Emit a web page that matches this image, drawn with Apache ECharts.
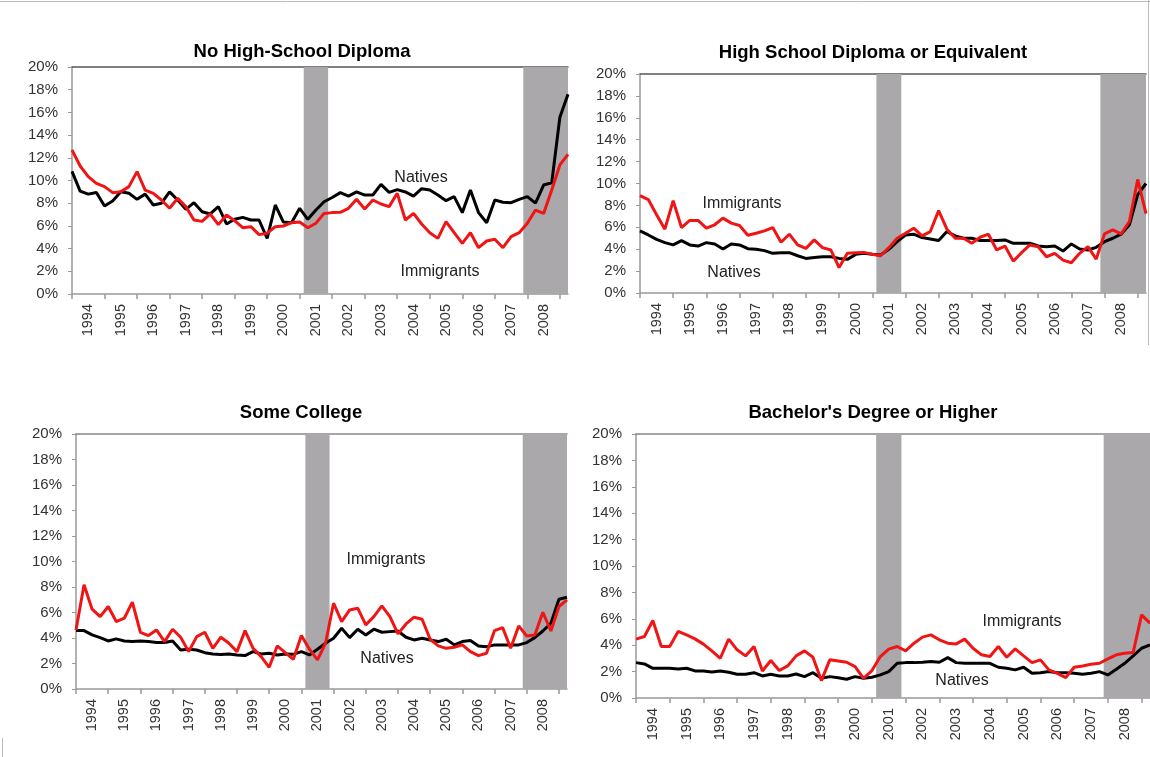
<!DOCTYPE html>
<html><head><meta charset="utf-8">
<script src="https://cdn.jsdelivr.net/npm/echarts@6/dist/echarts.min.js"></script>
<style>html,body{margin:0;padding:0;background:#fff}#c{width:1150px;height:757px}</style>
</head><body><div id="c"></div>
<script>
// Quarterly unemployment rates (%), 1994Q1 onward, 62 quarters
const yearLabels = ['1994','1995','1996','1997','1998','1999','2000','2001','2002','2003','2004','2005','2006','2007','2008'];
const recessions = [[28.5, 31.5], [55.5, 61]];

const noHsNatives = [10.8,9.07,8.8,8.95,7.75,8.2,9.0,8.87,8.34,8.8,7.84,8.0,9.0,8.28,7.46,8.05,7.25,7.05,7.7,6.17,6.58,6.75,6.52,6.52,4.9,7.84,6.34,6.28,7.55,6.58,7.4,8.13,8.5,8.93,8.63,9.0,8.72,8.72,9.66,8.95,9.2,8.99,8.63,9.28,9.16,8.72,8.22,8.58,7.17,9.16,7.17,6.28,8.28,8.08,8.05,8.34,8.58,8.0,9.6,9.8,15.57,17.6];
const noHsImmigrants = [12.69,11.28,10.34,9.75,9.46,8.93,9.0,9.46,10.78,9.16,8.87,8.28,7.55,8.43,7.7,6.52,6.4,7.05,6.11,6.96,6.46,5.84,5.93,5.23,5.35,5.93,5.99,6.28,6.34,5.84,6.23,7.1,7.17,7.2,7.55,8.34,7.49,8.28,7.93,7.7,8.87,6.52,7.1,6.17,5.4,4.9,6.37,5.4,4.46,5.4,4.08,4.67,4.82,4.08,5.05,5.4,6.23,7.4,7.1,9.16,11.37,12.3];

const hsNatives = [5.67,5.3,4.9,4.6,4.39,4.79,4.39,4.29,4.6,4.48,4.02,4.48,4.39,4.05,3.99,3.87,3.62,3.68,3.68,3.4,3.16,3.25,3.31,3.31,3.16,3.07,3.53,3.62,3.53,3.47,3.99,4.69,5.3,5.37,5.06,4.94,4.79,5.61,5.21,5.0,5.0,4.79,4.79,4.79,4.85,4.54,4.54,4.54,4.29,4.23,4.29,3.83,4.48,4.02,3.93,4.17,4.69,5.0,5.37,6.23,8.99,10.0];
const hsImmigrants = [8.9,8.53,7.15,5.83,8.44,5.98,6.63,6.63,5.92,6.23,6.84,6.38,6.17,5.28,5.46,5.67,5.98,4.63,5.37,4.39,4.08,4.85,4.14,3.93,2.33,3.62,3.68,3.71,3.53,3.4,4.14,5.0,5.46,5.92,5.21,5.61,7.52,5.83,5.0,5.0,4.54,5.09,5.37,3.93,4.29,2.91,3.68,4.39,4.23,3.31,3.62,3.0,2.76,3.62,4.23,3.1,5.4,5.77,5.4,6.53,10.37,7.24];

const scNatives = [4.58,4.58,4.24,4.03,3.77,3.93,3.77,3.72,3.77,3.72,3.64,3.64,3.77,3.06,3.12,3.06,2.85,2.75,2.7,2.75,2.67,2.62,2.93,2.75,2.8,2.67,2.75,2.72,2.93,2.67,3.12,3.59,3.98,4.76,4.03,4.69,4.24,4.69,4.45,4.5,4.55,4.06,3.85,3.98,3.85,3.72,3.9,3.46,3.72,3.8,3.38,3.32,3.46,3.46,3.46,3.46,3.64,4.03,4.55,5.16,7.04,7.2];
const scImmigrants = [4.63,8.17,6.26,5.68,6.47,5.29,5.55,6.81,4.45,4.19,4.63,3.72,4.69,4.06,2.93,4.11,4.45,3.19,4.06,3.59,2.93,4.58,3.19,2.54,1.7,3.38,2.85,2.33,4.19,3.12,2.28,3.59,6.73,5.29,6.2,6.34,5.03,5.68,6.52,5.68,4.32,5.1,5.63,5.47,3.9,3.38,3.19,3.27,3.46,2.93,2.62,2.8,4.58,4.82,3.19,4.95,4.16,4.24,6.02,4.55,6.47,6.99];

const baNatives = [2.68,2.58,2.25,2.25,2.25,2.2,2.25,2.05,2.05,1.97,2.05,1.95,1.8,1.8,1.92,1.67,1.8,1.67,1.67,1.82,1.62,1.92,1.49,1.62,1.54,1.42,1.62,1.49,1.57,1.75,2.0,2.63,2.68,2.68,2.71,2.76,2.71,3.06,2.68,2.63,2.63,2.63,2.63,2.33,2.25,2.13,2.33,1.87,1.92,2.0,1.92,1.92,1.87,1.8,1.87,2.0,1.75,2.18,2.63,3.19,3.77,4.03];
const baImmigrants = [4.46,4.66,5.87,3.9,3.9,5.04,4.78,4.48,4.08,3.57,3.01,4.46,3.65,3.19,3.9,2.05,2.84,2.08,2.43,3.19,3.57,3.09,1.32,2.89,2.81,2.71,2.38,1.49,2.08,3.14,3.7,3.9,3.57,4.15,4.61,4.78,4.41,4.15,4.1,4.46,3.77,3.27,3.14,3.9,3.09,3.72,3.19,2.68,2.89,2.13,1.87,1.54,2.33,2.43,2.56,2.63,2.96,3.27,3.39,3.44,6.3,5.67];

const panels = [
  {title:'No High-School Diploma', nat:noHsNatives, imm:noHsImmigrants,
   grid:{left:72, top:67, width:496, height:227}, titlePos:[302,52], natPos:[421,178], immPos:[440,272], topColor:'#555'},
  {title:'High School Diploma or Equivalent', nat:hsNatives, imm:hsImmigrants,
   grid:{left:640, top:74, width:506, height:219}, titlePos:[873,53], natPos:[734,273], immPos:[742,204], topColor:'#555'},
  {title:'Some College', nat:scNatives, imm:scImmigrants,
   grid:{left:76, top:434, width:491, height:255}, titlePos:[301,413], natPos:[387,659], immPos:[386,560], topColor:'#888'},
  {title:"Bachelor's Degree or Higher", nat:baNatives, imm:baImmigrants,
   grid:{left:636, top:434, width:514, height:264}, titlePos:[873,413], natPos:[962,681], immPos:[1022,622], topColor:'#888'}
];

const nQ = 61;
const tickVals = []; for (let v = 0; v <= 60; v += 4) tickVals.push(v);
const labelVals = yearLabels.map((_, k) => 2 + 4 * k);

const FONT = '"Liberation Sans", Arial, sans-serif';
const grids = [], xAxes = [], yAxes = [], series = [], graphics = [];

panels.forEach((p, gi) => {
  grids.push(Object.assign({containLabel:false}, p.grid));
  // data/ticks axis
  xAxes.push({
    type:'value', gridIndex:gi, min:0, max:nQ, position:'bottom',
    axisLine:{show:true, lineStyle:{color:'#999', width:1.5}},
    axisTick:{show:true, customValues:tickVals, length:5, lineStyle:{color:'#999', width:1.5}},
    axisLabel:{show:true, customValues:labelVals, rotate:90, margin:10,
      formatter:(v)=>yearLabels[Math.round((v-2)/4)] || '',
      color:'#333', fontSize:14.5, fontFamily:FONT},
    splitLine:{show:false}
  });
  // top border
  xAxes.push({
    type:'value', gridIndex:gi, min:0, max:nQ, position:'top',
    axisLine:{show:true, lineStyle:{color:p.topColor, width:1.5}},
    axisTick:{show:false}, axisLabel:{show:false}, splitLine:{show:false}
  });
  yAxes.push({
    type:'value', gridIndex:gi, min:0, max:20, interval:2,
    axisLine:{show:true, lineStyle:{color:'#999', width:1.5}},
    axisTick:{show:true, length:4, lineStyle:{color:'#999'}},
    axisLabel:{formatter:'{value}%', color:'#333', fontSize:15, fontFamily:FONT, margin:14},
    splitLine:{show:false}
  });
  // recession shading
  series.push({
    type:'line', xAxisIndex:gi*2, yAxisIndex:gi, data:[], z:1, silent:true,
    markArea:{silent:true, itemStyle:{color:'#aaa8ab', opacity:1},
      data: recessions.map(r => [{xAxis:r[0]}, {xAxis:r[1]}])}
  });
  series.push({
    type:'line', name:'Natives', xAxisIndex:gi*2, yAxisIndex:gi, z:3,
    data:p.nat.map((v,i)=>[i,v]), symbol:'none', clip:true,
    lineStyle:{color:'#000', width:3}
  });
  series.push({
    type:'line', name:'Immigrants', xAxisIndex:gi*2, yAxisIndex:gi, z:4,
    data:p.imm.map((v,i)=>[i,v]), symbol:'none', clip:true,
    lineStyle:{color:'#f01414', width:3}
  });
  graphics.push({type:'text', x:p.titlePos[0], y:p.titlePos[1], z:10,
    style:{text:p.title, textAlign:'center', textVerticalAlign:'middle',
      font:'bold 18.5px ' + FONT, fill:'#000'}});
  graphics.push({type:'text', x:p.natPos[0], y:p.natPos[1], z:10,
    style:{text:'Natives', textAlign:'center', textVerticalAlign:'middle',
      font:'16px ' + FONT, fill:'#222'}});
  graphics.push({type:'text', x:p.immPos[0], y:p.immPos[1], z:10,
    style:{text:'Immigrants', textAlign:'center', textVerticalAlign:'middle',
      font:'16px ' + FONT, fill:'#222'}});
});

// outer frame fragments
graphics.push({type:'line', shape:{x1:0, y1:1.5, x2:1150, y2:1.5}, style:{stroke:'#bbb', lineWidth:1}});
graphics.push({type:'line', shape:{x1:1148.5, y1:0, x2:1148.5, y2:345}, style:{stroke:'#bbb', lineWidth:1}});
graphics.push({type:'line', shape:{x1:2.5, y1:738, x2:2.5, y2:757}, style:{stroke:'#bbb', lineWidth:1}});

const chart = echarts.init(document.getElementById('c'), null, {renderer:'canvas'});
chart.setOption({
  animation:false,
  backgroundColor:'#fff',
  grid:grids, xAxis:xAxes, yAxis:yAxes, series:series, graphic:graphics
});
</script></body></html>
